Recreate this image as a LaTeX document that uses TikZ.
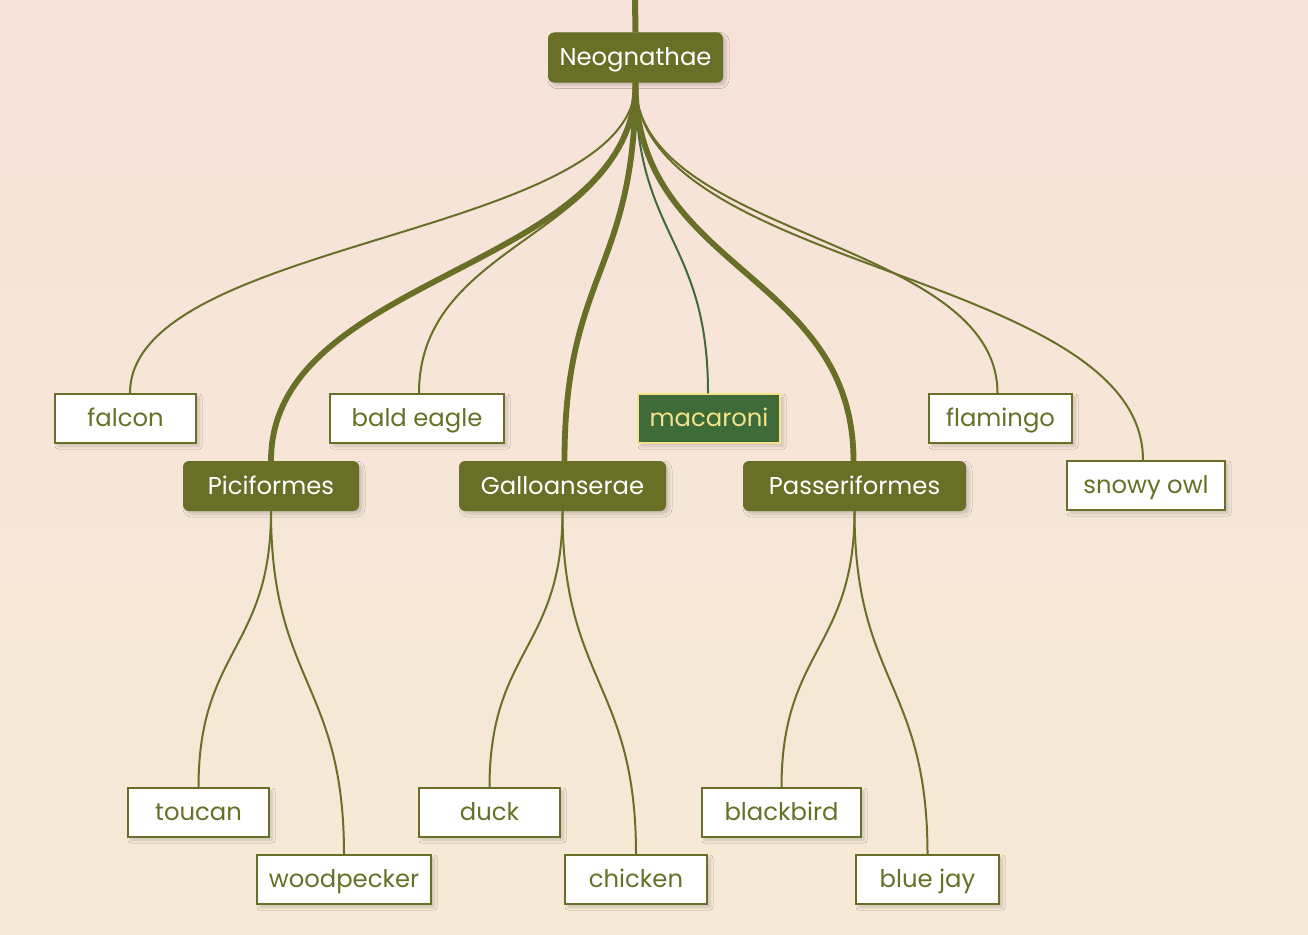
\documentclass[tikz,border=0pt]{standalone}
\usepackage{fontspec}
\setmainfont{Poppins}
\usetikzlibrary{calc,shadows.blur}
\definecolor{olive}{HTML}{677026}
\definecolor{bgtop}{HTML}{F7E2DA}
\definecolor{bgbot}{HTML}{F6EAD6}
\definecolor{macfill}{HTML}{3E6B38}
\definecolor{macyel}{HTML}{F3E38A}
\definecolor{macedge}{HTML}{3E6B38}
\tikzset{
  shade/.style={blur shadow={shadow xshift=3pt,shadow yshift=-3pt,shadow opacity=18,shadow blur steps=6,shadow blur radius=3pt}},
  inner/.style={shade,fill=olive,text=white,rounded corners=6pt,minimum height=50pt,inner sep=0pt,text height=20pt,text depth=4pt,font=\fontsize{24.3}{27}\selectfont},
  leaf/.style={shade,fill=white,draw=olive,line width=1.5pt,text=olive,minimum height=49pt,minimum width=141pt,inner xsep=11pt,inner ysep=0pt,text height=20pt,text depth=4pt,font=\fontsize{24.3}{27}\selectfont},
  link/.style={to path={let \p1=(\tikztostart), \p2=(\tikztotarget), \n1={0.5*(\y1+\y2)} in .. controls (\x1,\n1) and (\x2,\n1) .. (\tikztotarget)}},
  thin/.style={link,draw=olive,line width=2pt},
  thick/.style={link,draw=olive,line width=5.8pt}
}
\begin{document}
\begin{tikzpicture}[x=1pt,y=-1pt]
\shade[top color=bgtop,bottom color=bgbot] (0,0) rectangle (1308,934);
\useasboundingbox (0,0) rectangle (1308,934);
\coordinate (top) at (635,0);
\node[inner,minimum width=175pt] (neo) at (635.5,57.5) {Neognathae};
\node[leaf] (falcon) at (125.5,418.5) {falcon};
\node[leaf,minimum width=174pt] (eagle) at (417,418.5) {bald eagle};
\node[leaf,fill=macfill,draw=macyel,text=macyel,minimum width=142pt] (mac) at (709,418.5) {macaroni};
\node[leaf,minimum width=143pt] (flamingo) at (1000.5,418.5) {flamingo};
\node[leaf,minimum width=158pt] (owl) at (1146,485.5) {snowy owl};
\node[inner,minimum width=176pt] (pici) at (271,486) {Piciformes};
\node[inner,minimum width=207pt] (gallo) at (562.5,486) {Galloanserae};
\node[inner,minimum width=223pt] (passer) at (854.5,486) {Passeriformes};
\node[leaf] (toucan) at (198.5,812.5) {toucan};
\node[leaf,minimum width=174pt] (wood) at (344,879.5) {woodpecker};
\node[leaf] (duck) at (489.5,812.5) {duck};
\node[leaf,minimum width=142pt] (chicken) at (636,879.5) {chicken};
\node[leaf,minimum width=159pt] (blackbird) at (781.5,812.5) {blackbird};
\node[leaf,minimum width=143pt] (bluejay) at (927.5,879.5) {blue jay};
\draw[olive,line width=6pt] (top) -- (neo.north);
\draw[thin] (neo.south) to ([xshift=4.5pt]falcon.north);
\draw[thin] (neo.south) to ([xshift=2pt]eagle.north);
\draw[thin,draw=macedge] (neo.south) to ([xshift=-1pt]mac.north);
\draw[thin] (neo.south) to ([xshift=-3pt]flamingo.north);
\draw[thin] (neo.south) to ([xshift=-3pt]owl.north);
\draw[thick] (neo.south) to (pici.north);
\draw[thick] (neo.south) to ([xshift=2pt]gallo.north);
\draw[thick] (neo.south) to ([xshift=-1pt]passer.north);
\draw[thin] (pici.south) to (toucan.north);
\draw[thin] (pici.south) to (wood.north);
\draw[thin] (gallo.south) to (duck.north);
\draw[thin] (gallo.south) to (chicken.north);
\draw[thin] (passer.south) to (blackbird.north);
\draw[thin] (passer.south) to (bluejay.north);
\end{tikzpicture}
\end{document}
